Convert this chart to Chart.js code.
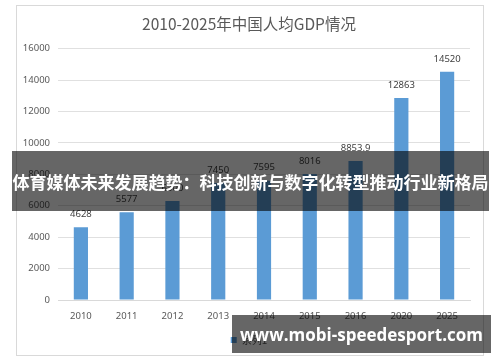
<!DOCTYPE html>
<html>
<head>
<meta charset="utf-8">
<script src="https://cdn.jsdelivr.net/npm/chart.js@4"></script>
<style>
	body { margin: 0; background: #fff; }
	#wrap { position: relative; width: 500px; height: 362px; overflow: hidden; }
	#frame { position: absolute; left: 16px; top: 5px; width: 466px; height: 349px; border: 1px solid #d9d9d9; }
	#gdpChart { position: absolute; left: 0; top: 0; }
	#banner {
		position: absolute; left: 12px; top: 151px; width: 477px; height: 60px;
		background: rgba(0,0,0,0.6); color: #fff; font: bold 17px "Noto Sans CJK SC", sans-serif;
		line-height: 62px; text-align: center; white-space: nowrap;
	}
	#mark {
		position: absolute; left: 232px; top: 315px; width: 259px; height: 38px;
		background: rgba(0,0,0,0.6); color: #fff; font: bold 17px "Open Sans", sans-serif;
		line-height: 40px; text-align: center; white-space: nowrap;
	}
</style>
</head>
<body>
<div id="wrap">
	<div id="frame"></div>
	<canvas id="gdpChart" width="500" height="362"></canvas>
	<div id="banner">体育媒体未来发展趋势：科技创新与数字化转型推动行业新格局</div>
	<div id="mark">www.mobi-speedesport.com</div>
</div>
<script>
	// Data
	var years = ['2010', '2011', '2012', '2013', '2014', '2015', '2016', '2020', '2025'];
	var gdpPerCapita = [4628, 5577, 6300, 7450, 7595, 8016, 8853.9, 12863, 14520];
	var yTicks = [0, 2000, 4000, 6000, 8000, 10000, 12000, 14000, 16000];

	var grey = '#595959';

	// values written over each bar
	var barLabels = {
		id: 'barLabels',
		afterDatasetsDraw: function(chart) {
			var ctx = chart.ctx;
			var meta = chart.getDatasetMeta(0);
			ctx.save();
			ctx.font = '9.5px "Noto Sans", sans-serif';
			ctx.fillStyle = '#404040';
			ctx.textAlign = 'center';
			ctx.textBaseline = 'middle';
			meta.data.forEach(function(bar, i) {
				ctx.fillText(String(gdpPerCapita[i]), bar.x, bar.y - 13);
			});
			ctx.restore();
		}
	};

	var gdpChart = new Chart(document.getElementById('gdpChart'), {
		type: 'bar',
		data: {
			labels: years,
			datasets: [{
				label: '系列1',
				data: gdpPerCapita,
				backgroundColor: '#5b9bd5',
				barPercentage: 0.31,
				categoryPercentage: 1
			}]
		},
		options: {
			responsive: false,
			animation: false,
			layout: { padding: { left: 0, right: 2, top: 10, bottom: 7 } },
			plugins: {
				title: {
					display: true,
					text: '2010-2025年中国人均GDP情况',
					color: grey,
					font: { family: '"Noto Sans CJK SC", sans-serif', size: 15.5, weight: 'normal' },
					padding: { top: 5, bottom: 15 }
				},
				legend: {
					position: 'bottom',
					labels: {
						color: grey,
						boxWidth: 6,
						boxHeight: 6,
						font: { family: '"Noto Sans CJK SC", sans-serif', size: 10 }
					}
				},
				tooltip: { enabled: false }
			},
			scales: {
				x: {
					grid: { display: false },
					border: { color: '#d9d9d9' },
					ticks: { color: grey, padding: 3, font: { family: '"Noto Sans", sans-serif', size: 9.5 } },
					afterFit: function(scale) { scale.height = 25; }
				},
				y: {
					min: 0,
					max: 16000,
					grid: { color: '#e0e0e0', drawTicks: false },
					border: { display: false },
					ticks: {
						color: grey,
						padding: 8,
						font: { family: '"Noto Sans", sans-serif', size: 9.5 },
						callback: function(v) { return String(v); }
					},
					afterBuildTicks: function(scale) {
						scale.ticks = yTicks.map(function(v) { return { value: v }; });
					},
					afterFit: function(scale) { scale.width = 58; }
				},
				// empty right-hand axis, only keeps the plot clear of the frame
				yRight: {
					position: 'right',
					grid: { display: false, drawTicks: false },
					border: { display: false },
					ticks: { display: false },
					afterFit: function(scale) { scale.width = 28; }
				}
			}
		},
		plugins: [barLabels]
	});
</script>
</body>
</html>
